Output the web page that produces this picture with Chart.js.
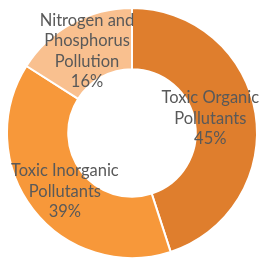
<!DOCTYPE html>
<html>
<head>
<meta charset="utf-8">
<script src="https://cdn.jsdelivr.net/npm/chart.js@4/dist/chart.umd.min.js"></script>
<style>
  html, body { margin: 0; padding: 0; background: #fff; }
  #wrap { width: 262px; height: 264px; position: relative; }
</style>
</head>
<body>
<div id="wrap"><canvas id="pollutionChart"></canvas></div>
<script>
// Slices, clockwise from 12 o'clock
const categories = [
    ['Toxic Organic', 'Pollutants'],
    ['Toxic Inorganic', 'Pollutants'],
    ['Nitrogen and', 'Phosphorus', 'Pollution']
];
const shares = [45, 39, 16];
const sliceColors = ['#DF7E2D', '#F7983A', '#F9C08F'];

// Draws category + percent inside each slice (no datalabels plugin offline)
const sliceLabels = {
    id: 'sliceLabels',
    afterDatasetsDraw(chart, args, opts) {
        const ctx = chart.ctx;
        const meta = chart.getDatasetMeta(0);
        const total = shares.reduce((a, b) => a + b, 0);
        ctx.save();
        ctx.font = opts.font;
        ctx.fillStyle = opts.color;
        ctx.textAlign = 'center';
        ctx.textBaseline = 'middle';
        meta.data.forEach((arc, i) => {
            const p = arc.getProps(['x', 'y', 'startAngle', 'endAngle', 'innerRadius', 'outerRadius']);
            const mid = (p.startAngle + p.endAngle) / 2;
            const r = (p.innerRadius + p.outerRadius) / 2 * opts.radiusScale[i];
            const cx = p.x + Math.cos(mid) * r + opts.shift[i][0];
            const cy = p.y + Math.sin(mid) * r + opts.shift[i][1];
            const lines = categories[i].concat(Math.round(shares[i] / total * 100) + '%');
            const top = cy - (lines.length - 1) * opts.lineHeight / 2;
            lines.forEach((ln, k) => ctx.fillText(ln, cx, top + k * opts.lineHeight));
        });
        ctx.restore();
    }
};

new Chart(document.getElementById('pollutionChart'), {
    type: 'doughnut',
    data: {
        labels: categories.map(c => c.join(' ')),
        datasets: [{
            data: shares,
            backgroundColor: sliceColors,
            borderColor: '#ffffff',
            borderWidth: 2
        }]
    },
    options: {
        responsive: true,
        maintainAspectRatio: false,
        animation: false,
        cutout: '51%',
        layout: { padding: { left: 6, right: 4, top: 7, bottom: 5 } },
        plugins: {
            legend: { display: false },
            tooltip: { enabled: false },
            sliceLabels: {
                font: '16.5px Lato, "Open Sans", sans-serif',
                color: '#595959',
                lineHeight: 20.5,
                radiusScale: [0.84, 0.94, 0.99],
                shift: [[0, -2], [3, 4], [0, 0]]
            }
        }
    },
    plugins: [sliceLabels]
});
</script>
</body>
</html>
